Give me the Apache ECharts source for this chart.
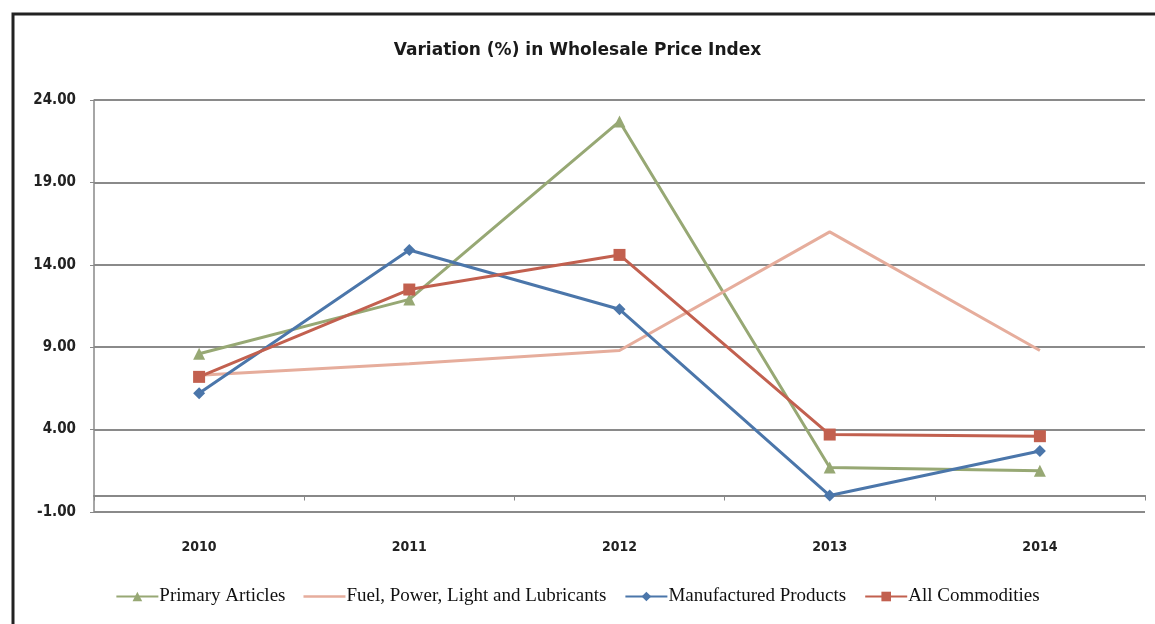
<!DOCTYPE html>
<html>
<head>
<meta charset="utf-8">
<title>Variation (%) in Wholesale Price Index</title>
<script src="https://cdn.jsdelivr.net/npm/echarts@6/dist/echarts.min.js"></script>
<style>
  html, body { margin: 0; padding: 0; background: #fff; }
  #chart { width: 1155px; height: 624px; }
</style>
</head>
<body>
<div id="chart"></div>
<script>
// Years on the category axis
const years = ['2010', '2011', '2012', '2013', '2014'];

// Year-on-year variation (%) per WPI group
const primaryArticles = [8.6, 11.9, 22.7, 1.7, 1.5];
const fuelPower = [7.3, 8.0, 8.8, 16.0, 8.8];
const manufactured = [6.2, 14.9, 11.3, 0.0, 2.7];
const allCommodities = [7.2, 12.5, 14.6, 3.7, 3.6];

// Value axis ticks
const yMin = -1;
const yMax = 24;
const yStep = 5;

const seriesNames = [
  'Primary Articles',
  'Fuel, Power, Light and Lubricants',
  'Manufactured Products',
  'All Commodities'
];

const chart = echarts.init(document.getElementById('chart'), null, { renderer: 'canvas' });

function lineSeries(name, data, color, symbol, size) {
  return {
    name: name,
    type: 'line',
    data: data,
    symbol: symbol,
    symbolSize: size,
    showSymbol: symbol !== 'none',
    lineStyle: { color: color, width: 3 },
    itemStyle: { color: color },
    emphasis: { disabled: true },
    z: 3
  };
}

chart.setOption({
  animation: false,
  backgroundColor: '#ffffff',
  title: {
    text: 'Variation (%) in Wholesale Price Index',
    left: 'center',
    top: 37,
    textStyle: {
      fontFamily: 'DejaVu Sans',
      fontWeight: 'bold',
      fontSize: 17,
      color: '#1a1a1a'
    }
  },
  legend: {
    bottom: 13,
    left: 'center',
    itemWidth: 42,
    itemHeight: 12,
    itemGap: 18,
    data: [
      { name: seriesNames[0] },
      // plain line key for the marker-less series
      { name: seriesNames[1], icon: 'path://M0,4.6 L40,4.6 L40,7.2 L0,7.2 Z' },
      { name: seriesNames[2] },
      { name: seriesNames[3] }
    ],
    textStyle: {
      fontFamily: 'Liberation Serif',
      fontSize: 19,
      color: '#111',
      padding: [0, 0, 0, -4]
    }
  },
  grid: { left: 94, right: 10, top: 100, bottom: 112 },
  xAxis: {
    type: 'category',
    data: years,
    boundaryGap: true,
    axisLine: { onZero: true, lineStyle: { color: '#888', width: 2 } },
    axisTick: { show: true, length: 5, lineStyle: { color: '#888', width: 1 } },
    axisLabel: {
      margin: 28,
      fontFamily: 'DejaVu Sans Condensed, DejaVu Sans',
      fontWeight: 'bold',
      fontSize: 14,
      color: '#222'
    },
    splitLine: { show: false }
  },
  yAxis: {
    type: 'value',
    min: yMin,
    max: yMax,
    interval: yStep,
    axisLine: { show: true, lineStyle: { color: '#888', width: 1.5 } },
    axisTick: { show: true, length: 4, lineStyle: { color: '#888' } },
    axisLabel: {
      margin: 18,
      formatter: v => v.toFixed(2),
      fontFamily: 'DejaVu Sans Condensed, DejaVu Sans',
      fontWeight: 'bold',
      fontSize: 15,
      color: '#222'
    },
    splitLine: { show: true, lineStyle: { color: '#8a8a8a', width: 2 } }
  },
  graphic: [{
    type: 'polyline',
    shape: { points: [[13, 624], [13, 14], [1155, 14]] },
    style: { stroke: '#222', lineWidth: 3, fill: null },
    silent: true
  }],
  series: [
    lineSeries(seriesNames[0], primaryArticles, '#97a874', 'triangle', 12),
    lineSeries(seriesNames[1], fuelPower, '#e6ad9c', 'none', 0),
    lineSeries(seriesNames[2], manufactured, '#4b76aa', 'diamond', 12),
    lineSeries(seriesNames[3], allCommodities, '#c2604f', 'rect', 12)
  ]
});
</script>
</body>
</html>
